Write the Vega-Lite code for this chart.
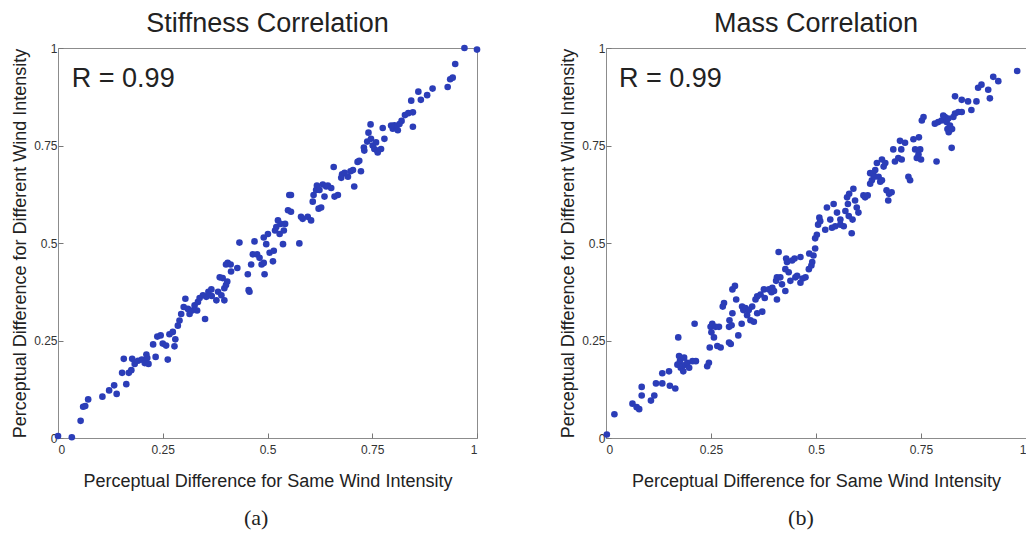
{
  "$schema": "https://vega.github.io/schema/vega-lite/v6.json",
  "padding": {"left": 11, "top": 9, "right": 0, "bottom": 0},
  "background": "white",
  "config": {
    "font": "Liberation Sans",
    "view": {"stroke": "#8c8c8c", "strokeWidth": 1},
    "axis": {
      "grid": false,
      "domain": false,
      "tickSize": -5,
      "tickColor": "#777777",
      "labelFontSize": 12,
      "labelColor": "#333333",
      "labelExpr": "toString(datum.value)",
      "titleFontWeight": "normal",
      "titleColor": "#222222"
    },
    "axisX": {"labelPadding": 11, "titleFontSize": 18, "titlePadding": 17},
    "axisY": {"labelPadding": 6, "titleFontSize": 18, "titlePadding": 4},
    "title": {"fontSize": 27, "fontWeight": "normal", "color": "#222222", "offset": 0}
  },
  "datasets": {
    "stiffness": [
      {"same":0.0,"different":0.005},{"same":0.033,"different":0.002},{"same":0.054,"different":0.044},{"same":0.060,"different":0.080},
      {"same":0.065,"different":0.082},{"same":0.072,"different":0.099},{"same":0.106,"different":0.106},{"same":0.122,"different":0.122},
      {"same":0.134,"different":0.135},{"same":0.140,"different":0.113},{"same":0.157,"different":0.203},{"same":0.153,"different":0.167},
      {"same":0.163,"different":0.138},{"same":0.169,"different":0.167},{"same":0.175,"different":0.174},{"same":0.177,"different":0.203},
      {"same":0.183,"different":0.190},{"same":0.191,"different":0.198},{"same":0.200,"different":0.201},{"same":0.207,"different":0.192},
      {"same":0.211,"different":0.214},{"same":0.213,"different":0.205},{"same":0.216,"different":0.190},{"same":0.233,"different":0.208},
      {"same":0.227,"different":0.240},{"same":0.237,"different":0.260},{"same":0.245,"different":0.263},{"same":0.250,"different":0.242},
      {"same":0.258,"different":0.237},{"same":0.262,"different":0.201},{"same":0.266,"different":0.266},{"same":0.274,"different":0.272},
      {"same":0.280,"different":0.253},{"same":0.278,"different":0.235},{"same":0.286,"different":0.288},{"same":0.290,"different":0.301},
      {"same":0.294,"different":0.318},{"same":0.300,"different":0.336},{"same":0.304,"different":0.357},{"same":0.310,"different":0.331},
      {"same":0.314,"different":0.318},{"same":0.320,"different":0.327},{"same":0.326,"different":0.340},{"same":0.332,"different":0.327},
      {"same":0.334,"different":0.349},{"same":0.338,"different":0.359},{"same":0.346,"different":0.366},{"same":0.351,"different":0.305},
      {"same":0.354,"different":0.362},{"same":0.359,"different":0.375},{"same":0.366,"different":0.381},{"same":0.367,"different":0.364},
      {"same":0.378,"different":0.353},{"same":0.382,"different":0.375},{"same":0.390,"different":0.366},{"same":0.386,"different":0.412},
      {"same":0.393,"different":0.410},{"same":0.397,"different":0.384},{"same":0.401,"different":0.392},{"same":0.404,"different":0.401},
      {"same":0.401,"different":0.445},{"same":0.405,"different":0.449},{"same":0.412,"different":0.445},{"same":0.413,"different":0.427},
      {"same":0.428,"different":0.436},{"same":0.433,"different":0.501},{"same":0.397,"different":0.353},{"same":0.453,"different":0.420},
      {"same":0.455,"different":0.379},{"same":0.457,"different":0.375},{"same":0.461,"different":0.445},{"same":0.465,"different":0.471},
      {"same":0.469,"different":0.504},{"same":0.475,"different":0.471},{"same":0.481,"different":0.462},{"same":0.486,"different":0.445},
      {"same":0.491,"different":0.449},{"same":0.493,"different":0.420},{"same":0.491,"different":0.514},{"same":0.497,"different":0.497},
      {"same":0.501,"different":0.523},{"same":0.505,"different":0.475},{"same":0.513,"different":0.453},{"same":0.515,"different":0.480},
      {"same":0.518,"different":0.532},{"same":0.521,"different":0.541},{"same":0.525,"different":0.558},{"same":0.529,"different":0.523},
      {"same":0.531,"different":0.549},{"same":0.537,"different":0.497},{"same":0.539,"different":0.532},{"same":0.542,"different":0.549},
      {"same":0.549,"different":0.584},{"same":0.552,"different":0.623},{"same":0.556,"different":0.623},{"same":0.556,"different":0.580},
      {"same":0.576,"different":0.499},{"same":0.580,"different":0.567},{"same":0.584,"different":0.562},{"same":0.596,"different":0.567},
      {"same":0.604,"different":0.558},{"same":0.608,"different":0.606},{"same":0.610,"different":0.623},{"same":0.616,"different":0.636},
      {"same":0.618,"different":0.647},{"same":0.622,"different":0.588},{"same":0.624,"different":0.636},{"same":0.628,"different":0.591},
      {"same":0.632,"different":0.650},{"same":0.636,"different":0.619},{"same":0.640,"different":0.645},{"same":0.644,"different":0.647},
      {"same":0.652,"different":0.641},{"same":0.658,"different":0.695},{"same":0.660,"different":0.619},{"same":0.668,"different":0.623},
      {"same":0.676,"different":0.667},{"same":0.678,"different":0.676},{"same":0.684,"different":0.680},{"same":0.692,"different":0.670},
      {"same":0.698,"different":0.684},{"same":0.704,"different":0.687},{"same":0.707,"different":0.645},{"same":0.715,"different":0.708},
      {"same":0.719,"different":0.711},{"same":0.723,"different":0.684},{"same":0.730,"different":0.745},{"same":0.731,"different":0.737},
      {"same":0.738,"different":0.760},{"same":0.747,"different":0.767},{"same":0.751,"different":0.750},{"same":0.755,"different":0.741},
      {"same":0.759,"different":0.758},{"same":0.762,"different":0.737},{"same":0.763,"different":0.732},{"same":0.771,"different":0.741},
      {"same":0.779,"different":0.767},{"same":0.746,"different":0.804},{"same":0.775,"different":0.795},{"same":0.799,"different":0.793},
      {"same":0.803,"different":0.802},{"same":0.807,"different":0.798},{"same":0.811,"different":0.789},{"same":0.820,"different":0.813},
      {"same":0.828,"different":0.828},{"same":0.836,"different":0.833},{"same":0.847,"different":0.835},{"same":0.847,"different":0.798},
      {"same":0.843,"different":0.865},{"same":0.860,"different":0.888},{"same":0.866,"different":0.867},{"same":0.881,"different":0.879},
      {"same":0.894,"different":0.896},{"same":0.930,"different":0.900},{"same":0.936,"different":0.920},{"same":0.942,"different":0.924},
      {"same":0.948,"different":0.959},{"same":0.970,"different":1.0},{"same":1.0,"different":0.996},{"same":0.795,"different":0.801},
      {"same":0.815,"different":0.805},{"same":0.741,"different":0.783}
    ],
    "mass": [
      {"same":0.002,"different":0.009},{"same":0.020,"different":0.061},{"same":0.063,"different":0.088},{"same":0.073,"different":0.079},
      {"same":0.079,"different":0.074},{"same":0.085,"different":0.131},{"same":0.085,"different":0.109},{"same":0.107,"different":0.096},
      {"same":0.115,"different":0.109},{"same":0.119,"different":0.140},{"same":0.134,"different":0.140},{"same":0.134,"different":0.166},
      {"same":0.150,"different":0.171},{"same":0.152,"different":0.134},{"same":0.165,"different":0.127},{"same":0.170,"different":0.188},
      {"same":0.174,"different":0.210},{"same":0.176,"different":0.197},{"same":0.178,"different":0.180},{"same":0.182,"different":0.184},
      {"same":0.186,"different":0.206},{"same":0.184,"different":0.171},{"same":0.190,"different":0.188},{"same":0.194,"different":0.193},
      {"same":0.198,"different":0.180},{"same":0.172,"different":0.258},{"same":0.206,"different":0.197},{"same":0.214,"different":0.197},
      {"same":0.211,"different":0.293},{"same":0.241,"different":0.184},{"same":0.245,"different":0.193},{"same":0.247,"different":0.232},
      {"same":0.249,"different":0.285},{"same":0.251,"different":0.271},{"same":0.253,"different":0.293},{"same":0.257,"different":0.258},
      {"same":0.261,"different":0.285},{"same":0.265,"different":0.236},{"same":0.269,"different":0.285},{"same":0.273,"different":0.232},
      {"same":0.278,"different":0.337},{"same":0.281,"different":0.346},{"same":0.293,"different":0.245},{"same":0.297,"different":0.241},
      {"same":0.293,"different":0.285},{"same":0.294,"different":0.302},{"same":0.299,"different":0.289},{"same":0.301,"different":0.320},
      {"same":0.301,"different":0.381},{"same":0.307,"different":0.390},{"same":0.310,"different":0.355},{"same":0.315,"different":0.263},
      {"same":0.323,"different":0.293},{"same":0.324,"different":0.337},{"same":0.327,"different":0.328},{"same":0.332,"different":0.333},
      {"same":0.336,"different":0.315},{"same":0.340,"different":0.328},{"same":0.344,"different":0.302},{"same":0.348,"different":0.337},
      {"same":0.352,"different":0.298},{"same":0.356,"different":0.355},{"same":0.360,"different":0.363},{"same":0.360,"different":0.320},
      {"same":0.372,"different":0.324},{"same":0.368,"different":0.368},{"same":0.376,"different":0.381},{"same":0.378,"different":0.359},
      {"same":0.388,"different":0.381},{"same":0.394,"different":0.374},{"same":0.396,"different":0.385},{"same":0.400,"different":0.377},
      {"same":0.407,"different":0.355},{"same":0.405,"different":0.403},{"same":0.407,"different":0.412},{"same":0.411,"different":0.477},
      {"same":0.415,"different":0.412},{"same":0.419,"different":0.394},{"same":0.427,"different":0.377},{"same":0.427,"different":0.433},
      {"same":0.429,"different":0.460},{"same":0.431,"different":0.451},{"same":0.435,"different":0.425},{"same":0.439,"different":0.403},
      {"same":0.443,"different":0.455},{"same":0.449,"different":0.460},{"same":0.451,"different":0.412},{"same":0.455,"different":0.416},
      {"same":0.463,"different":0.464},{"same":0.463,"different":0.398},{"same":0.468,"different":0.409},{"same":0.475,"different":0.412},
      {"same":0.483,"different":0.433},{"same":0.484,"different":0.473},{"same":0.489,"different":0.442},{"same":0.491,"different":0.451},
      {"same":0.494,"different":0.468},{"same":0.498,"different":0.486},{"same":0.498,"different":0.512},{"same":0.502,"different":0.521},
      {"same":0.505,"different":0.547},{"same":0.508,"different":0.565},{"same":0.510,"different":0.556},{"same":0.522,"different":0.534},
      {"same":0.526,"different":0.591},{"same":0.534,"different":0.560},{"same":0.538,"different":0.539},{"same":0.542,"different":0.600},
      {"same":0.546,"different":0.543},{"same":0.550,"different":0.578},{"same":0.558,"different":0.547},{"same":0.558,"different":0.560},
      {"same":0.566,"different":0.543},{"same":0.570,"different":0.582},{"same":0.574,"different":0.617},{"same":0.576,"different":0.600},
      {"same":0.578,"different":0.569},{"same":0.579,"different":0.626},{"same":0.585,"different":0.525},{"same":0.587,"different":0.560},
      {"same":0.589,"different":0.639},{"same":0.593,"different":0.609},{"same":0.597,"different":0.591},{"same":0.601,"different":0.578},
      {"same":0.613,"different":0.622},{"same":0.617,"different":0.617},{"same":0.623,"different":0.622},{"same":0.629,"different":0.679},
      {"same":0.629,"different":0.652},{"same":0.633,"different":0.661},{"same":0.637,"different":0.674},{"same":0.639,"different":0.670},
      {"same":0.641,"different":0.687},{"same":0.645,"different":0.705},{"same":0.649,"different":0.670},{"same":0.653,"different":0.657},
      {"same":0.657,"different":0.661},{"same":0.657,"different":0.714},{"same":0.661,"different":0.696},{"same":0.665,"different":0.705},
      {"same":0.668,"different":0.635},{"same":0.672,"different":0.609},{"same":0.674,"different":0.626},{"same":0.680,"different":0.630},
      {"same":0.684,"different":0.740},{"same":0.688,"different":0.709},{"same":0.696,"different":0.718},{"same":0.700,"different":0.762},
      {"same":0.703,"different":0.740},{"same":0.704,"different":0.714},{"same":0.712,"different":0.757},{"same":0.720,"different":0.670},
      {"same":0.724,"different":0.661},{"same":0.732,"different":0.766},{"same":0.736,"different":0.740},{"same":0.740,"different":0.718},
      {"same":0.744,"different":0.727},{"same":0.745,"different":0.771},{"same":0.748,"different":0.740},{"same":0.750,"different":0.714},
      {"same":0.752,"different":0.814},{"same":0.756,"different":0.823},{"same":0.787,"different":0.709},{"same":0.783,"different":0.806},
      {"same":0.791,"different":0.810},{"same":0.799,"different":0.814},{"same":0.803,"different":0.827},{"same":0.807,"different":0.823},
      {"same":0.811,"different":0.810},{"same":0.815,"different":0.819},{"same":0.813,"different":0.792},{"same":0.816,"different":0.784},
      {"same":0.819,"different":0.801},{"same":0.823,"different":0.744},{"same":0.824,"different":0.792},{"same":0.827,"different":0.823},
      {"same":0.831,"different":0.832},{"same":0.839,"different":0.836},{"same":0.847,"different":0.836},{"same":0.831,"different":0.876},
      {"same":0.847,"different":0.867},{"same":0.862,"different":0.863},{"same":0.870,"different":0.841},{"same":0.882,"different":0.863},
      {"same":0.886,"different":0.898},{"same":0.894,"different":0.906},{"same":0.910,"different":0.893},{"same":0.914,"different":0.871},
      {"same":0.922,"different":0.926},{"same":0.934,"different":0.915},{"same":0.979,"different":0.941}
    ]
  },
  "hconcat": [
    {
      "width": 419,
      "height": 390,
      "title": {"text": "Stiffness Correlation"},
      "layer": [
        {
          "data": {"name": "stiffness"},
          "mark": {"type": "circle", "size": 44, "color": "#2b3db8", "opacity": 1},
          "encoding": {
            "x": {"field": "same", "type": "quantitative", "scale": {"domain": [0, 1], "nice": false},
                  "axis": {"values": [0, 0.25, 0.5, 0.75, 1], "title": "Perceptual Difference for Same Wind Intensity"}},
            "y": {"field": "different", "type": "quantitative", "scale": {"domain": [0, 1], "nice": false},
                  "axis": {"values": [0, 0.25, 0.5, 0.75, 1], "title": "Perceptual Difference for Different Wind Intensity"}}
          }
        },
        {
          "data": {"values": [{"label": "R = 0.99"}]},
          "mark": {"type": "text", "align": "left", "baseline": "middle", "fontSize": 27, "color": "#222222"},
          "encoding": {"x": {"datum": 0.033, "type": "quantitative"}, "y": {"datum": 0.92, "type": "quantitative"}, "text": {"field": "label"}}
        },
        {
          "data": {"values": [{"label": "(a)"}]},
          "mark": {"type": "text", "align": "center", "baseline": "middle", "fontSize": 22, "font": "Liberation Serif", "color": "#222222"},
          "encoding": {"x": {"datum": 0.473, "type": "quantitative"}, "y": {"datum": -0.205, "type": "quantitative"}, "text": {"field": "label"}}
        }
      ]
    },
    {
      "width": 420,
      "height": 390,
      "title": {"text": "Mass Correlation"},
      "layer": [
        {
          "data": {"name": "mass"},
          "mark": {"type": "circle", "size": 44, "color": "#2b3db8", "opacity": 1},
          "encoding": {
            "x": {"field": "same", "type": "quantitative", "scale": {"domain": [0, 1], "nice": false},
                  "axis": {"values": [0, 0.25, 0.5, 0.75, 1], "title": "Perceptual Difference for Same Wind Intensity"}},
            "y": {"field": "different", "type": "quantitative", "scale": {"domain": [0, 1], "nice": false},
                  "axis": {"values": [0, 0.25, 0.5, 0.75, 1], "title": "Perceptual Difference for Different Wind Intensity"}}
          }
        },
        {
          "data": {"values": [{"label": "R = 0.99"}]},
          "mark": {"type": "text", "align": "left", "baseline": "middle", "fontSize": 27, "color": "#222222"},
          "encoding": {"x": {"datum": 0.031, "type": "quantitative"}, "y": {"datum": 0.92, "type": "quantitative"}, "text": {"field": "label"}}
        },
        {
          "data": {"values": [{"label": "(b)"}]},
          "mark": {"type": "text", "align": "center", "baseline": "middle", "fontSize": 22, "font": "Liberation Serif", "color": "#222222"},
          "encoding": {"x": {"datum": 0.464, "type": "quantitative"}, "y": {"datum": -0.205, "type": "quantitative"}, "text": {"field": "label"}}
        }
      ]
    }
  ],
  "spacing": 78
}
